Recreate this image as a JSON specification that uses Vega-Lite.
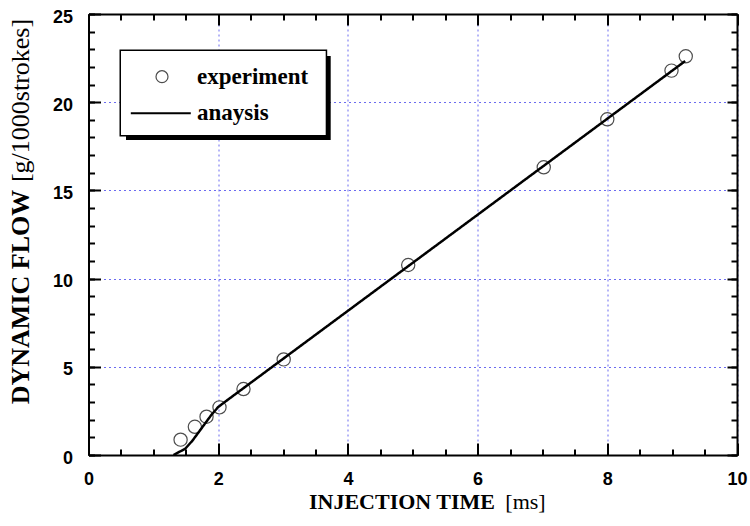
{
  "$schema": "https://vega.github.io/schema/vega-lite/v6.json",
  "width": 648.5,
  "height": 441,
  "autosize": {"type": "none"},
  "padding": {"left": 88.5, "top": 14, "right": 13, "bottom": 71},
  "background": "white",
  "config": {
    "view": {"stroke": null},
    "axis": {
      "domainColor": "black",
      "domainWidth": 2,
      "tickColor": "black",
      "tickWidth": 2,
      "labelFont": "Liberation Sans",
      "labelFontWeight": "bold",
      "labelFontSize": 18,
      "labelColor": "black",
      "labelFlush": false,
      "labelOverlap": false,
      "titleColor": "black",
      "titleFont": "Liberation Serif",
      "titleFontSize": 22,
      "gridColor": "#6b6bf0",
      "gridDash": [2, 3],
      "gridWidth": 1
    },
    "legend": {
      "labelFont": "Liberation Serif",
      "labelFontWeight": "bold",
      "labelFontSize": 23,
      "labelColor": "black"
    }
  },
  "data": {
    "values": [
      {"t": 1.42, "flow": 0.87, "series": "experiment"},
      {"t": 1.64, "flow": 1.60, "series": "experiment"},
      {"t": 1.82, "flow": 2.17, "series": "experiment"},
      {"t": 2.02, "flow": 2.70, "series": "experiment"},
      {"t": 2.39, "flow": 3.74, "series": "experiment"},
      {"t": 3.01, "flow": 5.42, "series": "experiment"},
      {"t": 4.93, "flow": 10.77, "series": "experiment"},
      {"t": 7.02, "flow": 16.31, "series": "experiment"},
      {"t": 8.00, "flow": 19.03, "series": "experiment"},
      {"t": 8.99, "flow": 21.79, "series": "experiment"},
      {"t": 9.21, "flow": 22.60, "series": "experiment"},
      {"t": 1.31, "flow": 0.0, "series": "anaysis"},
      {"t": 1.49, "flow": 0.35, "series": "anaysis"},
      {"t": 1.60, "flow": 0.80, "series": "anaysis"},
      {"t": 1.75, "flow": 1.55, "series": "anaysis"},
      {"t": 1.90, "flow": 2.30, "series": "anaysis"},
      {"t": 2.00, "flow": 2.72, "series": "anaysis"},
      {"t": 2.10, "flow": 3.00, "series": "anaysis"},
      {"t": 9.20, "flow": 22.33, "series": "anaysis"}
    ]
  },
  "layer": [
    {
      "transform": [{"filter": "datum.series === 'experiment'"}],
      "mark": {"type": "point", "shape": "circle", "filled": false, "size": 175, "strokeWidth": 1.2, "opacity": 1},
      "encoding": {
        "x": {
          "field": "t", "type": "quantitative",
          "scale": {"domain": [0, 10], "nice": false, "zero": false},
          "axis": {
            "orient": "bottom", "values": [0, 2, 4, 6, 8, 10], "tickSize": -12, "grid": true,
            "labelPadding": 27, "title": "INJECTION TIME", "titleFontWeight": "bold",
            "titleX": 313, "titleY": 53, "titleAlign": "center", "titleBaseline": "alphabetic", "titleAngle": 0
          }
        },
        "y": {
          "field": "flow", "type": "quantitative",
          "scale": {"domain": [0, 25], "nice": false, "zero": false},
          "axis": {
            "orient": "left", "values": [0, 5, 10, 15, 20, 25], "tickSize": -12, "grid": true,
            "labelPadding": 28, "labelOffset": 3, "labelBaseline": "middle",
            "title": "DYNAMIC FLOW", "titleFontWeight": "bold", "titleFontSize": 26,
            "titleX": -60, "titleY": 282.5, "titleAngle": 270, "titleAlign": "center", "titleBaseline": "alphabetic"
          }
        },
        "color": {
          "field": "series", "type": "nominal",
          "scale": {"domain": ["experiment"], "range": ["#4d4d4d"]},
          "legend": {
            "orient": "none", "legendX": 62, "legendY": 51.2, "title": null, "zindex": 3,
            "padding": 0, "symbolType": "circle", "symbolSize": 144, "symbolStrokeWidth": 1.2,
            "symbolOffset": 0, "labelOffset": 23.5
          }
        }
      }
    },
    {
      "transform": [{"filter": "datum.series === 'anaysis'"}],
      "mark": {"type": "line", "color": "black", "strokeWidth": 2.5},
      "encoding": {
        "x": {
          "field": "t", "type": "quantitative",
          "axis": {
            "orient": "top", "values": [0, 0.5, 1, 1.5, 2, 2.5, 3, 3.5, 4, 4.5, 5, 5.5, 6, 6.5, 7, 7.5, 8, 8.5, 9, 9.5, 10],
            "tickSize": -6, "labels": false, "grid": false, "title": null
          }
        },
        "y": {
          "field": "flow", "type": "quantitative",
          "axis": {
            "orient": "right", "values": [0, 1, 2, 3, 4, 5, 6, 7, 8, 9, 10, 11, 12, 13, 14, 15, 16, 17, 18, 19, 20, 21, 22, 23, 24, 25],
            "tickSize": -6, "labels": false, "grid": false, "title": null
          }
        },
        "strokeDash": {
          "field": "series", "type": "nominal",
          "scale": {"domain": ["anaysis"], "range": [[1, 0]]},
          "legend": {
            "orient": "none", "legendX": 41.3, "legendY": 68.3, "title": null, "zindex": 3,
            "padding": 0, "symbolType": "stroke", "symbolSize": 3600, "symbolStrokeWidth": 2,
            "symbolStrokeColor": "black", "symbolOffset": 0, "labelOffset": 5.2
          }
        }
      }
    },
    {
      "transform": [{"filter": "datum.series === 'none'"}],
      "mark": {"type": "point", "filled": true, "color": "black", "opacity": 1},
      "encoding": {
        "x": {
          "field": "t", "type": "quantitative",
          "axis": {
            "orient": "bottom", "values": [0, 0.5, 1, 1.5, 2, 2.5, 3, 3.5, 4, 4.5, 5, 5.5, 6, 6.5, 7, 7.5, 8, 8.5, 9, 9.5, 10],
            "tickSize": -6, "labels": false, "domain": false, "grid": false,
            "title": "[ms]", "titleFontWeight": "normal",
            "titleX": 436.5, "titleY": 53, "titleAlign": "center", "titleBaseline": "alphabetic", "titleAngle": 0
          }
        },
        "y": {
          "field": "flow", "type": "quantitative",
          "axis": {
            "orient": "left", "values": [0, 1, 2, 3, 4, 5, 6, 7, 8, 9, 10, 11, 12, 13, 14, 15, 16, 17, 18, 19, 20, 21, 22, 23, 24, 25],
            "tickSize": -6, "labels": false, "domain": false, "grid": false,
            "title": "[g/1000strokes]", "titleFontWeight": "normal", "titleFontSize": 26,
            "titleX": -60, "titleY": 86, "titleAngle": 270, "titleAlign": "center", "titleBaseline": "alphabetic"
          }
        },
        "shape": {
          "field": "series", "type": "nominal",
          "scale": {"domain": ["shadow"], "range": ["M-1,-0.41L1,-0.41L1,0.41L-1,0.41Z"]},
          "legend": {
            "orient": "none", "legendX": 37.35, "legendY": -18.5, "title": null, "zindex": 1,
            "padding": 0, "symbolSize": 41902, "symbolStrokeWidth": 0,
            "symbolFillColor": "black", "symbolOpacity": 1, "symbolOffset": 0, "labelOffset": 0,
            "labelExpr": "''", "labelFontSize": 10
          }
        }
      }
    },
    {
      "transform": [{"filter": "datum.series === 'none'"}],
      "mark": {"type": "point", "filled": true, "color": "black", "opacity": 1},
      "encoding": {
        "x": {"field": "t", "type": "quantitative", "axis": null},
        "y": {"field": "flow", "type": "quantitative", "axis": null},
        "shape": {
          "field": "series", "type": "nominal",
          "scale": {"domain": ["border"], "range": ["M-1,-0.4189L1,-0.4189L1,0.4189L-1,0.4189Z"]},
          "legend": {
            "orient": "none", "legendX": 30.85, "legendY": -25, "title": null, "zindex": 1,
            "padding": 0, "symbolSize": 43139, "symbolStrokeWidth": 0,
            "symbolFillColor": "black", "symbolOpacity": 1, "symbolOffset": 0, "labelOffset": 0,
            "labelExpr": "''", "labelFontSize": 10
          }
        }
      }
    },
    {
      "transform": [{"filter": "datum.series === 'none'"}],
      "mark": {"type": "point", "filled": true, "color": "white", "opacity": 1},
      "encoding": {
        "x": {
          "field": "t", "type": "quantitative",
          "axis": {
            "orient": "top", "values": [0, 2, 4, 6, 8, 10],
            "tickSize": -11, "labels": false, "domain": false, "grid": false, "title": null
          }
        },
        "y": {
          "field": "flow", "type": "quantitative",
          "axis": {
            "orient": "right", "values": [0, 5, 10, 15, 20, 25],
            "tickSize": -10, "labels": false, "domain": false, "grid": false, "title": null
          }
        },
        "shape": {
          "field": "series", "type": "nominal",
          "scale": {"domain": ["frame"], "range": ["M-1,-0.41L1,-0.41L1,0.41L-1,0.41Z"]},
          "legend": {
            "orient": "none", "legendX": 32.35, "legendY": -23.5, "title": null, "zindex": 2,
            "padding": 0, "symbolSize": 41902, "symbolStrokeWidth": 0,
            "symbolFillColor": "white", "symbolOpacity": 1,
            "symbolOffset": 0, "labelOffset": 0,
            "labelExpr": "''", "labelFontSize": 10
          }
        }
      }
    }
  ],
  "resolve": {
    "scale": {"shape": "independent"},
    "axis": {"x": "independent", "y": "independent"}
  }
}
